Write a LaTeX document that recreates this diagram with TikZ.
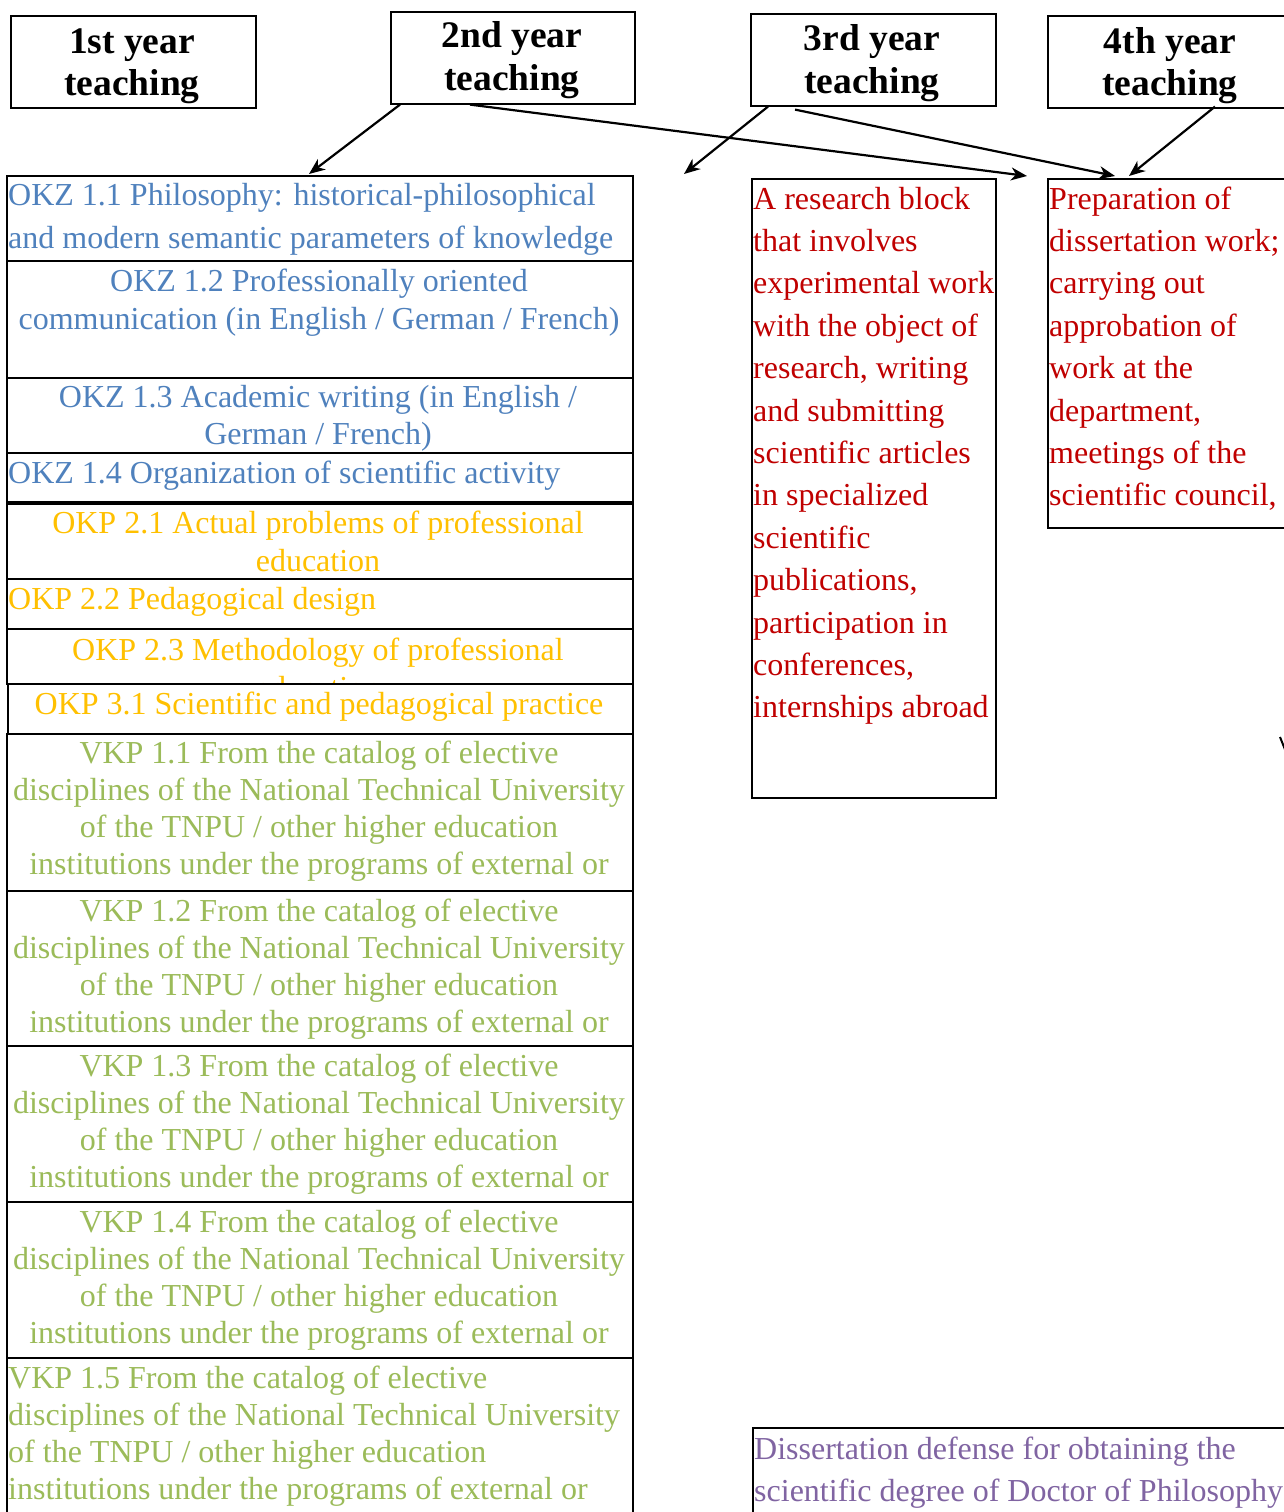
\documentclass[tikz,border=0pt]{standalone}
\usepackage{fontspec}
\setmainfont{Liberation Serif}
\usetikzlibrary{arrows.meta}
\definecolor{cblue}{HTML}{4F81BD}
\definecolor{cokp}{HTML}{FFC000}
\definecolor{cgreen}{HTML}{9BBB59}
\definecolor{cred}{HTML}{C00000}
\definecolor{cpurple}{HTML}{8064A2}
\newcommand\mytab[2]{\begin{tabular}[t]{@{}#1@{}}#2\end{tabular}}
\tikzset{
  box/.style={draw=black, line width=1.6pt, fill=white, inner sep=0pt, anchor=north west},
  head/.style={inner sep=0pt, anchor=base, font=\fontsize{37.5}{43}\selectfont\bfseries},
  txt/.style={inner sep=0pt, font=\fontsize{32}{43}\selectfont},
  txtv/.style={inner sep=0pt, font=\fontsize{32}{37}\selectfont},
  txtm/.style={inner sep=0pt, font=\fontsize{32}{38}\selectfont},
  txtr/.style={inner sep=0pt, font=\fontsize{32}{42.4}\selectfont},
  arr/.style={draw=black, line width=2.2pt, -{Stealth[length=16pt,width=13pt,inset=5pt]}}
}
\begin{document}
\begin{tikzpicture}[x=1pt,y=-1pt]
\useasboundingbox (0,0) rectangle (1284,1512);
\clip (0,0) rectangle (1284,1512);
\fill[white] (0,0) rectangle (1284,1512);

% header boxes
\node[box, minimum width=245pt, minimum height=92pt] (y1) at (10,15) {};
\node[box, minimum width=244pt, minimum height=92pt] (y2) at (390,11) {};
\node[box, minimum width=245pt, minimum height=92pt] (y3) at (750,13) {};
\node[box, minimum width=260pt, minimum height=92pt] (y4) at (1047,15) {};
\node[head] (t1) at (132,53) {\mytab{c}{1st year\\teaching}};
\node[head] (t2) at (512,48) {\mytab{c}{2nd year\\teaching}};
\node[head] (t3) at (872,51) {\mytab{c}{3rd year\\teaching}};
\node[head] (t4) at (1170,53) {\mytab{c}{4th year\\teaching}};

% left column
\node[box, minimum width=626pt, minimum height=85pt] (okz11) at (6,175) {};
\node[txt, text=cblue, anchor=base west] (okz11t) at (8,205) {\mytab{l}{OKZ 1.1 Philosophy: historical-philosophical\\and modern semantic parameters of knowledge}};
\node[box, minimum width=626pt, minimum height=117pt] (okz12) at (6,260) {};
\node[txtm, text=cblue, anchor=base] (okz12t) at (319,291) {\mytab{c}{OKZ 1.2 Professionally oriented\\communication (in English / German / French)}};
\node[box, minimum width=626pt, minimum height=75pt] (okz13) at (6,377) {};
\node[txtv, text=cblue, anchor=base] (okz13t) at (318,407) {\mytab{c}{OKZ 1.3 Academic writing (in English /\\German / French)}};
\node[box, minimum width=626pt, minimum height=49pt, line width=2.2pt] (okz14) at (6,452) {};
\node[txt, text=cblue, anchor=base west] (okz14t) at (8,483) {OKZ 1.4 Organization of scientific activity};
\node[box, minimum width=626pt, minimum height=75pt] (okp21) at (6,503) {};
\node[txtm, text=cokp, anchor=base] (okp21t) at (318,533) {\mytab{c}{OKP 2.1 Actual problems of professional\\education}};
\node[box, minimum width=626pt, minimum height=50pt] (okp22) at (6,578) {};
\node[txt, text=cokp, anchor=base west] (okp22t) at (8,609) {OKP 2.2 Pedagogical design};
\node[box, minimum width=626pt, minimum height=55pt] (okp23) at (6,628) {};
\begin{scope}
\clip (okp23.north west) rectangle (okp23.south east);
\node[txtm, text=cokp, anchor=base] (okp23t) at (318,660) {\mytab{c}{OKP 2.3 Methodology of professional\\education}};
\end{scope}
\node[box, minimum width=625pt, minimum height=50pt] (okp31) at (7,683) {};
\node[txt, text=cokp, anchor=base] (okp31t) at (319,714) {OKP 3.1 Scientific and pedagogical practice};

\newcommand\vkptext[1]{\mytab{c}{VKP #1 From the catalog of elective\\disciplines of the National Technical University\\of the TNPU / other higher education\\institutions under the programs of external or}}
\node[box, minimum width=626pt, minimum height=157pt] (vkp11) at (6,733) {};
\node[txtv, text=cgreen, anchor=base] (vkp11t) at (319,763) {\vkptext{1.1}};
\node[box, minimum width=626pt, minimum height=155pt] (vkp12) at (6,890) {};
\node[txtv, text=cgreen, anchor=base] (vkp12t) at (319,921) {\vkptext{1.2}};
\node[box, minimum width=626pt, minimum height=156pt] (vkp13) at (6,1045) {};
\node[txtv, text=cgreen, anchor=base] (vkp13t) at (319,1076) {\vkptext{1.3}};
\node[box, minimum width=626pt, minimum height=156pt] (vkp14) at (6,1201) {};
\node[txtv, text=cgreen, anchor=base] (vkp14t) at (319,1232) {\vkptext{1.4}};
\node[box, minimum width=626pt, minimum height=170pt] (vkp15) at (6,1357) {};
\node[txtv, text=cgreen, anchor=base west] (vkp15t) at (8,1388) {\mytab{l}{VKP 1.5 From the catalog of elective\\disciplines of the National Technical University\\of the TNPU / other higher education\\institutions under the programs of external or}};

% research block
\node[box, minimum width=244pt, minimum height=619pt] (res) at (751,178) {};
\node[txtr, text=cred, anchor=base west] (rest) at (753,209) {\mytab{l}{A research block\\that involves\\experimental work\\with the object of\\research, writing\\and submitting\\scientific articles\\in specialized\\scientific\\publications,\\participation in\\conferences,\\internships abroad}};

% 4th year block
\node[box, minimum width=260pt, minimum height=349pt] (prep) at (1047,178) {};
\node[txtr, text=cred, anchor=base west] (prept) at (1049,209) {\mytab{l}{Preparation of\\dissertation work;\\carrying out\\approbation of\\work at the\\department,\\meetings of the\\scientific council,}};

% defense block
\node[box, minimum width=560pt, minimum height=120pt] (def) at (752,1427) {};
\node[txtr, text=cpurple, anchor=base west, font=\fontsize{32}{42}\selectfont] (deft) at (754,1459) {\mytab{l}{Dissertation defense for obtaining the\\scientific degree of Doctor of Philosophy}};

% arrows
\coordinate (e1) at (309,174);
\coordinate (e2) at (1027,176);
\coordinate (e3) at (684,174);
\coordinate (e4) at (1115,176);
\coordinate (e5) at (1129,176);
\draw[arr] ([xshift=10pt]y2.south west) -- (e1);
\draw[arr] ([xshift=80pt]y2.south west) -- (e2);
\draw[arr] ([xshift=18pt]y3.south west) -- (e3);
\draw[arr] ([xshift=45pt,yshift=-3pt]y3.south west) -- (e4);
\draw[arr] ([xshift=168pt,yshift=2pt]y4.south west) -- (e5);

% fragment at right edge
\coordinate (f1) at (1280,737);
\coordinate (f2) at (1286,752);
\draw[line width=2pt] (f1) -- (f2);
\end{tikzpicture}
\end{document}
